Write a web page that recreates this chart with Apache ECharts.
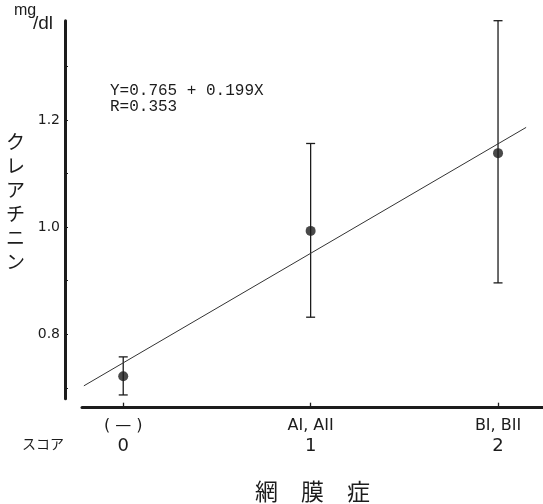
<!DOCTYPE html>
<html>
<head>
<meta charset="utf-8">
<script src="https://cdn.jsdelivr.net/npm/echarts@6/dist/echarts.min.js"></script>
<style>
html, body { margin: 0; padding: 0; background: #fff; }
#main { width: 543px; height: 504px; }
</style>
</head>
<body>
<div id="main"></div>
<script>
// 網膜症スコアごとのクレアチニン (mean, upper / lower bar)
const scores = [0, 1, 2]
const stageLabels = ['( — )', 'AI, AII', 'BI, BII']
const means = [0.722, 0.993, 1.138]
const upper = [0.758, 1.156, 1.385]
const lower = [0.687, 0.832, 0.896]
// regression line as drawn (end points)
const fitLine = [[-0.21, 0.704], [2.15, 1.186]]
const yTicks = [0.7, 0.8, 0.9, 1.0, 1.1, 1.2, 1.3]
const yLabels = [0.8, 1.0, 1.2]

const ink = '#1c1c1c'
const sans = 'DejaVu Sans'
const jp = '"Noto Sans CJK JP"'

function errorBar(params, api) {
  const x = api.value(0)
  const top = api.coord([x, api.value(1)])
  const bot = api.coord([x, api.value(2)])
  const w = 4.5
  const st = { stroke: ink, lineWidth: 1.3 }
  return {
    type: 'group',
    children: [
      { type: 'line', shape: { x1: top[0], y1: top[1], x2: bot[0], y2: bot[1] }, style: st },
      { type: 'line', shape: { x1: top[0] - w, y1: top[1], x2: top[0] + w, y2: top[1] }, style: st },
      { type: 'line', shape: { x1: bot[0] - w, y1: bot[1], x2: bot[0] + w, y2: bot[1] }, style: st }
    ]
  }
}

const myChart = echarts.init(document.getElementById('main'))
myChart.setOption({
  animation: false,
  title: [
    {
      text: 'Y=0.765 + 0.199X\nR=0.353',
      left: 110, top: 83, padding: 0,
      textStyle: { fontFamily: 'Liberation Mono', fontSize: 16, fontWeight: 'normal', color: ink, lineHeight: 16 }
    },
    {
      text: 'ク\nレ\nア\nチ\nニ\nン',
      left: 6, top: 130, padding: 0,
      textStyle: { fontFamily: jp, fontSize: 19, fontWeight: 'normal', color: ink, lineHeight: 24 }
    },
    {
      text: 'mg',
      left: 14, top: 3, padding: 0,
      textStyle: { fontFamily: 'Liberation Sans', fontSize: 16, fontWeight: 'normal', color: ink }
    },
    {
      text: '/dl',
      left: 33, top: 14, padding: 0,
      textStyle: { fontFamily: 'Liberation Sans', fontSize: 19, fontWeight: 'normal', color: ink }
    },
    {
      text: 'スコア',
      left: 22, top: 437, padding: 0,
      textStyle: { fontFamily: jp, fontSize: 14, fontWeight: 'normal', color: ink }
    }
  ],
  grid: { left: 82, right: 0, top: 20.7, bottom: 105.3, outerBoundsMode: 'none' },
  xAxis: {
    type: 'value',
    min: -0.22,
    max: 2.24,
    offset: 9,
    name: '網　膜　症',
    nameLocation: 'middle',
    nameGap: 72,
    nameTextStyle: { fontFamily: jp, fontSize: 23, color: ink },
    axisLine: { show: true, onZero: false, lineStyle: { color: ink, width: 3 } },
    axisTick: { show: true, inside: true, length: 5, customValues: scores, lineStyle: { color: ink, width: 1.3 } },
    axisLabel: {
      customValues: scores,
      margin: 9,
      formatter: v => `{a|${stageLabels[scores.indexOf(v)]}}\n{b|${v}}`,
      rich: {
        a: { fontFamily: sans, fontSize: 16, color: ink, lineHeight: 18 },
        b: { fontFamily: sans, fontSize: 18, color: ink, lineHeight: 24 }
      }
    },
    splitLine: { show: false }
  },
  yAxis: {
    type: 'value',
    min: 0.68,
    max: 1.385,
    offset: 17,
    axisLine: { show: true, onZero: false, lineStyle: { color: ink, width: 3 } },
    axisTick: { show: true, inside: true, length: 3, customValues: yTicks, lineStyle: { color: ink, width: 1 } },
    axisLabel: {
      customValues: yLabels,
      margin: 5,
      fontFamily: sans,
      fontSize: 14,
      color: ink,
      formatter: v => v.toFixed(1)
    },
    splitLine: { show: false }
  },
  series: [
    {
      type: 'line',
      data: fitLine,
      symbol: 'none',
      lineStyle: { color: '#333', width: 1 },
      silent: true
    },
    {
      type: 'custom',
      renderItem: errorBar,
      data: scores.map((s, i) => [s, upper[i], lower[i]]),
      clip: false,
      z: 3
    },
    {
      type: 'scatter',
      data: scores.map((s, i) => [s, means[i]]),
      symbolSize: 10,
      itemStyle: { color: ink },
      z: 4
    }
  ]
})
</script>
</body>
</html>
